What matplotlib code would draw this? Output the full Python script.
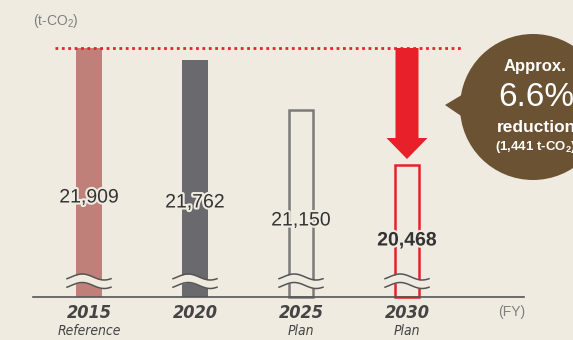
import numpy as np
import matplotlib.pyplot as plt
import matplotlib.patches as patches
import matplotlib.patheffects as pe

plt.rcParams['font.family'] = ['Liberation Sans', 'DejaVu Sans']
plt.rcParams['mathtext.fontset'] = 'custom'
plt.rcParams['mathtext.rm'] = 'Liberation Sans'
plt.rcParams['mathtext.default'] = 'regular'

# data
years = ['2015', '2020', '2025', '2030']
sublabels = ['Reference', '', 'Plan', 'Plan']
values = [21909, 21762, 21150, 20468]
value_labels = ['21,909', '21,762', '21,150', '20,468']
reduction_pct = '6.6%'
reduction_abs = '(1,441 t-CO$_2$)'

BG = '#efebe1'
RED = '#e8202a'
BROWN = '#6b5232'

W, H = 573, 340
fig = plt.figure(figsize=(W / 100, H / 100), dpi=100, facecolor=BG)

# main axes covers the whole figure; scale chosen so the axis break sits at the baseline
ax = fig.add_axes([0, 0, 1, 1])
ax.set_facecolor(BG)
ax.axis('off')

px_x = 106.0          # pixels per category
x0_px = 89.0          # pixel of first category
k = 0.0812            # pixels per t-CO2
top_px = 48.0         # pixel row of first value
base_px = 297.0       # pixel row of baseline

ax.set_xlim(-x0_px / px_x, (W - x0_px) / px_x)
ax.set_ylim(values[0] - (H - top_px) / k, values[0] + top_px / k)
base = values[0] - (base_px - top_px) / k

def dx(p):
    return p / px_x

def dy(p):
    return p / k

def yv(row):
    return values[0] - (row - top_px) / k

x = np.arange(len(years))
bw = dx(26)
heights = [v - base for v in values]

ax.bar(x[0], heights[0], bw, bottom=base, color='#c0807a', zorder=2)
ax.bar(x[1], heights[1], bw, bottom=base, color='#6a6a6e', zorder=2)
ax.bar(x[2], heights[2], bw - dx(2), bottom=base, facecolor=BG, edgecolor='#7a7a7a',
       linewidth=1.8, zorder=2)
ax.bar(x[3], heights[3], bw - dx(2), bottom=base, facecolor=BG, edgecolor=RED,
       linewidth=1.8, zorder=2)

# baseline
ax.plot([-dx(56), x[-1] + dx(117)], [base, base], color='#555555', lw=1.2, zorder=4)

# axis break marks
t = np.linspace(0, 1, 60)
wave = np.sin(2 * np.pi * t - 0.6)
for xi in x:
    xs = xi - dx(22) + t * dx(44)
    y1 = yv(277) + dy(3) * wave
    y2 = yv(285.5) + dy(3) * wave
    ax.fill_between(xs, y2, y1, color=BG, zorder=3, lw=0)
    ax.plot(xs, y1, color='#555555', lw=1.1, zorder=4)
    ax.plot(xs, y2, color='#555555', lw=1.1, zorder=4)

# value labels
label_rows = [198, 203, 221, 241]
for i, (lab, row) in enumerate(zip(value_labels, label_rows)):
    ax.text(x[i], yv(row), lab, ha='center', va='center', fontsize=14,
            color='#333333', fontweight='bold' if i == 3 else 'normal', zorder=5,
            path_effects=[pe.withStroke(linewidth=3, foreground=BG)])

# category labels (condensed italic)
narrow = ['DejaVu Sans']
for i in range(len(years)):
    ax.text(x[i], yv(313), years[i], ha='center', va='center', fontsize=13,
            fontweight='bold', style='italic', fontstretch='condensed',
            color='#444444', family=narrow)
    if sublabels[i]:
        ax.text(x[i], yv(331), sublabels[i], ha='center', va='center', fontsize=10,
                style='italic', fontstretch='condensed', color='#444444', family=narrow)

ax.text(x[-1] + dx(105), yv(312), '(FY)', ha='center', va='center', fontsize=10,
        color='#808080')
ax.text(-dx(56), yv(21), '(t-CO$_2$)', ha='left', va='center', fontsize=10,
        color='#808080')

# reference dotted line
ax.plot([-dx(34), x[-1] + dx(55)], [values[0], values[0]], color=RED, lw=2,
        linestyle=(0, (1, 1.3)), zorder=3)

# red arrow from reference level down to 2030 value
tip = values[3] + dy(6)
sh, hh, hl = dx(11.5), dx(20.5), dy(21)
xc = x[3]
arrow = patches.Polygon([
    (xc - sh, values[0]), (xc + sh, values[0]), (xc + sh, tip + hl),
    (xc + hh, tip + hl), (xc, tip), (xc - hh, tip + hl), (xc - sh, tip + hl)],
    closed=True, facecolor=RED, edgecolor='none', zorder=5)
ax.add_patch(arrow)

# speech bubble in pixel coordinates
ov = fig.add_axes([0, 0, 1, 1])
ov.set_xlim(0, W)
ov.set_ylim(H, 0)
ov.axis('off')
ov.patch.set_alpha(0)
ov.add_patch(patches.Circle((533, 107), 73, facecolor=BROWN, edgecolor='none'))
ov.add_patch(patches.Polygon([(445, 105), (470, 90), (470, 122)], closed=True,
                             facecolor=BROWN, edgecolor='none'))
ov.text(535, 67, 'Approx.', ha='center', va='center', fontsize=12,
        fontweight='bold', color='white')
ov.text(536, 98, reduction_pct, ha='center', va='center', fontsize=24, color='white')
ov.text(536, 127, 'reduction', ha='center', va='center', fontsize=12.5,
        fontweight='bold', color='white')
ov.text(536, 147, reduction_abs, ha='center', va='center', fontsize=9.5,
        fontweight='bold', color='white')

fig.savefig('out.png', dpi=100, facecolor=BG)
